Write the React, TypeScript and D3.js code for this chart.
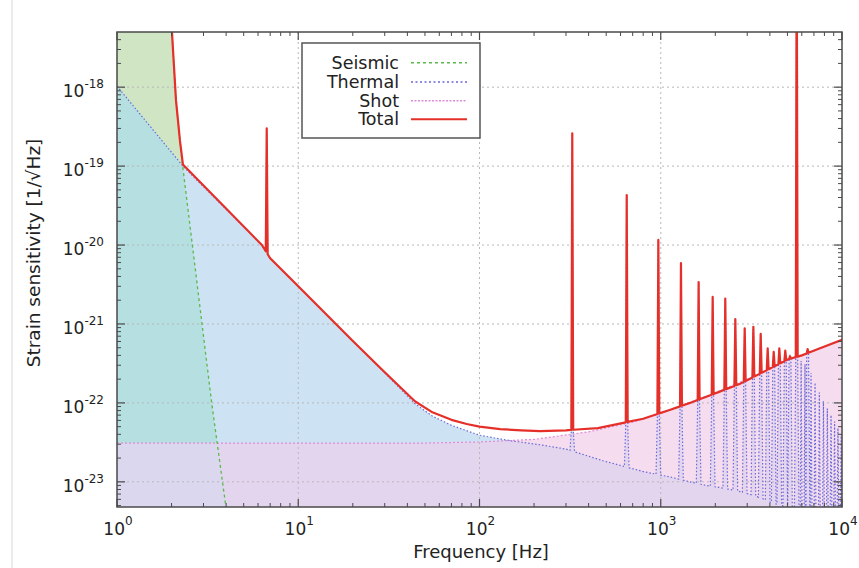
import React from "react";
import * as d3 from "d3";

// ---------- data ----------
const xTicks = [1, 10, 100, 1000, 10000];
const xTickExp = ["0", "1", "2", "3", "4"];
const yTicks = [1e-23, 1e-22, 1e-21, 1e-20, 1e-19, 1e-18];
const yTickExp = ["-23", "-22", "-21", "-20", "-19", "-18"];

const seismicFreq = [1, 1.9, 2.01, 2.116, 2.225, 2.31, 3.33, 3.99, 4.4];
const seismicVal = [1e-14, 1.2e-17, 5e-18, 6.8e-19, 2.1e-19, 9.5e-20, 1e-22, 4.8e-24, 5e-25];

const shotFreq = [1, 50, 100, 200, 400, 700, 1000, 2000, 3000, 5000, 7500, 10000];
const shotVal = [3.1e-23, 3.1e-23, 3.2e-23, 3.45e-23, 4.3e-23, 5.7e-23, 7.4e-23, 1.35e-22, 2.0e-22, 3.45e-22, 4.85e-22, 6.3e-22];

const totalFreq = [1.9, 2.01, 2.116, 2.225, 2.31, 6.3, 7.0, 10, 20, 30, 44, 55, 70, 85, 100, 130, 170, 216, 300, 450, 800, 1130, 1450, 2100, 2740, 3400, 4040, 5010, 6000, 7500, 10000];
const totalVal = [1.2e-17, 5e-18, 6.8e-19, 2.1e-19, 1.05e-19, 1e-20, 6.8e-21, 3.0e-21, 6.1e-22, 2.45e-22, 1.05e-22, 7.6e-23, 6.1e-23, 5.4e-23, 5.0e-23, 4.65e-23, 4.5e-23, 4.4e-23, 4.5e-23, 4.8e-23, 6.3e-23, 8.2e-23, 1.0e-22, 1.38e-22, 1.75e-22, 2.25e-22, 2.75e-22, 3.55e-22, 4.0e-22, 4.9e-22, 6.3e-22];

const thermalFreq = [1, 2.31, 6.3, 7.0, 10, 20, 30, 44, 55, 70, 100, 150, 216, 300, 480, 800, 1130, 1450, 1780, 2100, 2420, 2740, 3070, 3400, 3720, 4040, 4360, 4690, 5010, 5400, 5800, 10000];
const thermalVal = [1.03e-18, 1e-19, 1e-20, 6.8e-21, 3.0e-21, 6.1e-22, 2.4e-22, 9.8e-23, 6.8e-23, 5.2e-23, 3.9e-23, 3.3e-23, 2.95e-23, 2.6e-23, 1.85e-23, 1.35e-23, 1.15e-23, 1.0e-23, 9e-24, 8.5e-24, 8e-24, 7.5e-24, 7e-24, 6.5e-24, 6e-24, 5.5e-24, 5.2e-24, 5e-24, 4.6e-24, 4.2e-24, 3.5e-24, 3e-24];

// resonances seen in both thermal and total
const spikeFreq = [6.7, 325, 649, 970, 1293, 1618, 1934, 2270, 2579, 2905, 3243, 3560, 3890, 4200, 4510, 4865, 5165, 5625, 6460];
const spikePeak = [3.0e-19, 2.6e-19, 4.3e-20, 1.16e-20, 5.9e-21, 3.4e-21, 2.2e-21, 2.1e-21, 1.15e-21, 8.8e-22, 9.2e-22, 7.5e-22, 4.9e-22, 4.45e-22, 4.9e-22, 4.6e-22, 3.9e-22, 1e-16, 4.8e-22];
// high-frequency thermal-only wiggles (below the total)
const hfFreq = [5950, 6250, 6750, 7100, 7500, 7900, 8300, 8700, 9100, 9500, 9900];
const hfPeak = [3.4e-22, 3.1e-22, 2.4e-22, 1.8e-22, 1.35e-22, 1.05e-22, 8.5e-23, 7e-23, 5.8e-23, 4.8e-23, 4e-23];

const legendLabels = ["Seismic", "Thermal", "Shot", "Total"];

// ---------- layout / style ----------
const W = 859, H = 568;
const L = 117, R = 842, T = 32, B = 507;
const FONT = "'DejaVu Sans', Verdana, sans-serif";
const C = {
  S: "#cfe5c4", teal: "#b5dfe0", Tc: "#cde3f3", P: "#f5dcef", TP: "#e3d5ee", STP: "#dbd7ee",
  seisLine: "#5cb84a", thermLine: "#6a6ad8", shotLine: "#e08ad8", total: "#e5302a",
};

type P = { f: number; v: number };

export default function App() {
  const x = d3.scaleLog().domain([1, 1e4]).range([L, R]);
  const y = d3.scaleLog().domain([4.8e-24, 5e-18]).range([B, T]);

  const logInterp = (fs: number[], vs: number[]) => {
    const s = d3.scaleLinear().domain(fs.map(Math.log10)).range(vs.map(Math.log10)).clamp(true);
    return (f: number) => Math.pow(10, s(Math.log10(f)));
  };
  const totalBase = logInterp(totalFreq, totalVal);
  const thermBase = logInterp(thermalFreq, thermalVal);

  const totalPts: P[] = totalFreq.map((f, i) => ({ f, v: totalVal[i] }));
  spikeFreq.forEach((f, i) => {
    const a = f / 1.012, b = f * 1.012;
    totalPts.push({ f: a, v: totalBase(a) }, { f, v: spikePeak[i] }, { f: b, v: totalBase(b) });
  });
  totalPts.sort((p, q) => p.f - q.f);

  const thermalPts: P[] = thermalFreq.map((f, i) => ({ f, v: thermalVal[i] }));
  spikeFreq.forEach((f, i) => {
    const a = f / 1.012, b = f * 1.012;
    thermalPts.push({ f: a, v: totalBase(a) * 0.97 }, { f, v: spikePeak[i] }, { f: b, v: totalBase(b) * 0.97 });
    if (f > 100) {
      const a2 = f / 1.03, b2 = f * 1.03;
      thermalPts.push({ f: a2, v: thermBase(a2) }, { f: b2, v: thermBase(b2) });
    }
  });
  hfFreq.forEach((f, i) => {
    const a = f / 1.012, b = f * 1.012;
    thermalPts.push({ f: a, v: thermBase(a) }, { f, v: hfPeak[i] }, { f: b, v: thermBase(b) });
  });
  thermalPts.sort((p, q) => p.f - q.f);

  const seisPts: P[] = seismicFreq.map((f, i) => ({ f, v: seismicVal[i] }));
  const shotPts: P[] = shotFreq.map((f, i) => ({ f, v: shotVal[i] }));

  const line = d3.line<P>().x((d) => x(d.f)).y((d) => y(d.v));
  const area = d3.area<P>().x((d) => x(d.f)).y0(B + 5).y1((d) => y(d.v));

  const seisArea = area(seisPts) || "";
  const thermArea = area(thermalPts) || "";
  const shotArea = area(shotPts) || "";

  const minorX: number[] = [];
  for (let e = 0; e < 4; e++) for (let k = 2; k <= 9; k++) minorX.push(k * Math.pow(10, e));
  const minorY: number[] = [];
  for (let e = -24; e <= -18; e++) for (let k = 2; k <= 9; k++) {
    const v = k * Math.pow(10, e);
    if (v > 4.8e-24 && v < 5e-18) minorY.push(v);
  }

  const axisColor = "#4a4a4a";
  const legendRowsY = [62.7, 82, 100.7, 119.3];

  return (
    <svg width={W} height={H} style={{ position: "absolute", left: 0, top: 0, background: "#fff" }} fontFamily={FONT}>
      <defs>
        <clipPath id="clipPlot"><rect x={L} y={T} width={R - L} height={B - T} /></clipPath>
        <clipPath id="clipSeis"><path d={seisArea} /></clipPath>
        <clipPath id="clipTherm"><path d={thermArea} /></clipPath>
      </defs>
      <rect x={0} y={0} width={W} height={H} fill="#fff" />
      <line x1={12} x2={12} y1={0} y2={H} stroke="#e4e4e4" strokeWidth={1.5} />

      <g clipPath="url(#clipPlot)">
        <path d={seisArea} fill={C.S} />
        <path d={thermArea} fill={C.Tc} />
        <g clipPath="url(#clipSeis)"><path d={thermArea} fill={C.teal} /></g>
        <path d={shotArea} fill={C.P} />
        <g clipPath="url(#clipTherm)"><path d={shotArea} fill={C.TP} /></g>
        <g clipPath="url(#clipTherm)"><g clipPath="url(#clipSeis)"><path d={shotArea} fill={C.STP} /></g></g>

        {xTicks.slice(1, -1).map((t) => (
          <line key={"gx" + t} x1={x(t)} x2={x(t)} y1={T} y2={B} stroke="#b8b8b8" strokeWidth={1} strokeDasharray="2,3" />
        ))}
        {yTicks.map((t) => (
          <line key={"gy" + t} x1={L} x2={R} y1={y(t)} y2={y(t)} stroke="#b8b8b8" strokeWidth={1} strokeDasharray="2,3" />
        ))}

        <path d={line(shotPts) || ""} fill="none" stroke={C.shotLine} strokeWidth={1.2} strokeDasharray="2,2" />
        <path d={line(seisPts) || ""} fill="none" stroke={C.seisLine} strokeWidth={1.3} strokeDasharray="3,3" />
        <path d={line(thermalPts) || ""} fill="none" stroke={C.thermLine} strokeWidth={1.2} strokeDasharray="1.5,2" />
        <path d={line(totalPts) || ""} fill="none" stroke={C.total} strokeWidth={2.2} strokeLinejoin="round" />
      </g>

      {/* frame */}
      <rect x={L} y={T} width={R - L} height={B - T} fill="none" stroke={axisColor} strokeWidth={1.5} />
      {xTicks.map((t) => (
        <g key={"tx" + t}>
          <line x1={x(t)} x2={x(t)} y1={B} y2={B - 8} stroke={axisColor} strokeWidth={1.2} />
          <line x1={x(t)} x2={x(t)} y1={T} y2={T + 8} stroke={axisColor} strokeWidth={1.2} />
        </g>
      ))}
      {minorX.map((t) => (
        <g key={"mx" + t}>
          <line x1={x(t)} x2={x(t)} y1={B} y2={B - 4} stroke={axisColor} strokeWidth={1} />
          <line x1={x(t)} x2={x(t)} y1={T} y2={T + 4} stroke={axisColor} strokeWidth={1} />
        </g>
      ))}
      {yTicks.map((t) => (
        <g key={"ty" + t}>
          <line x1={L} x2={L + 8} y1={y(t)} y2={y(t)} stroke={axisColor} strokeWidth={1.2} />
          <line x1={R} x2={R - 8} y1={y(t)} y2={y(t)} stroke={axisColor} strokeWidth={1.2} />
        </g>
      ))}
      {minorY.map((t) => (
        <g key={"my" + t}>
          <line x1={L} x2={L + 4} y1={y(t)} y2={y(t)} stroke={axisColor} strokeWidth={1} />
          <line x1={R} x2={R - 4} y1={y(t)} y2={y(t)} stroke={axisColor} strokeWidth={1} />
        </g>
      ))}

      {/* tick labels */}
      {xTicks.map((t, i) => (
        <text key={"lx" + t} x={x(t) + 1} y={B + 28} textAnchor="middle" fontSize={17} fill="#222">
          10<tspan fontSize={12} dy={-10}>{xTickExp[i]}</tspan>
        </text>
      ))}
      {yTicks.map((t, i) => (
        <text key={"ly" + t} x={104} y={y(t) + 10} textAnchor="end" fontSize={17} fill="#222">
          10<tspan fontSize={12} dy={-9}>{yTickExp[i]}</tspan>
        </text>
      ))}

      {/* axis titles */}
      <text x={481} y={558} textAnchor="middle" fontSize={18} fill="#222">Frequency [Hz]</text>
      <text transform={`translate(40,253) rotate(-90)`} textAnchor="middle" fontSize={18.5} fill="#222">
        Strain sensitivity [1/√Hz]
      </text>

      {/* legend */}
      <rect x={302} y={43} width={178} height={95} fill="#fff" stroke="#555" strokeWidth={1.5} />
      {legendLabels.map((lab, i) => (
        <text key={lab} x={399} y={legendRowsY[i] + 6} textAnchor="end" fontSize={17.5} fill="#222">{lab}</text>
      ))}
      <line x1={411} x2={467} y1={legendRowsY[0]} y2={legendRowsY[0]} stroke={C.seisLine} strokeWidth={1.5} strokeDasharray="3,3" />
      <line x1={411} x2={467} y1={legendRowsY[1]} y2={legendRowsY[1]} stroke={C.thermLine} strokeWidth={1.5} strokeDasharray="2,2.5" />
      <line x1={411} x2={467} y1={legendRowsY[2]} y2={legendRowsY[2]} stroke={C.shotLine} strokeWidth={1.5} strokeDasharray="2,1.5" />
      <line x1={411} x2={467} y1={legendRowsY[3]} y2={legendRowsY[3]} stroke={C.total} strokeWidth={2} />
    </svg>
  );
}
